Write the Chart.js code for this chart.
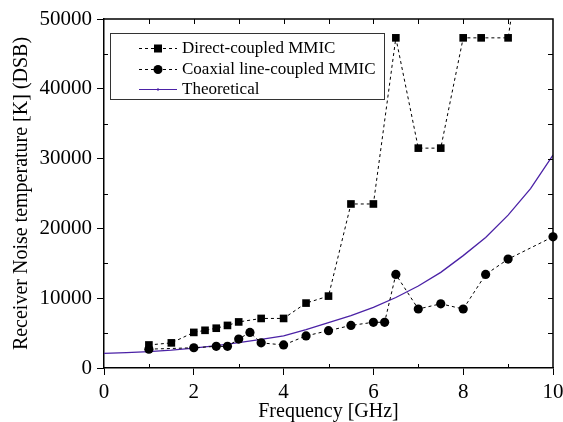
<!DOCTYPE html>
<html>
<head>
<meta charset="utf-8">
<script src="https://cdn.jsdelivr.net/npm/chart.js@4.4.1/dist/chart.umd.min.js"></script>
<style>
  html, body { margin: 0; padding: 0; background: #fff; }
  #wrap { width: 563px; height: 422px; position: relative; }
</style>
</head>
<body>
<div id="wrap"><canvas id="chart" width="563" height="422"></canvas></div>
<script>
(function () {
  "use strict";

  // Direct-coupled MMIC (squares)
  const directX = [1, 1.5, 2, 2.25, 2.5, 2.75, 3, 3.5, 4, 4.5, 5, 5.5, 6, 6.5, 7, 7.5, 8, 8.4, 9, 9.5];
  const directY = [3300, 3600, 5100, 5400, 5700, 6100, 6600, 7100, 7100, 9300, 10300, 23500, 23500, 47300, 31500, 31500, 47300, 47300, 47300, 68000];

  // Coaxial line-coupled MMIC (circles)
  const coaxX = [1, 2, 2.5, 2.75, 3, 3.25, 3.5, 4, 4.5, 5, 5.5, 6, 6.25, 6.5, 7, 7.5, 8, 8.5, 9, 10];
  const coaxY = [2700, 2900, 3100, 3100, 4150, 5100, 3600, 3300, 4600, 5350, 6100, 6550, 6550, 13400, 8450, 9200, 8450, 13400, 15600, 18800];

  // Theoretical curve
  const theoX = [0, 0.5, 1, 1.5, 2, 2.5, 3, 3.5, 4, 4.5, 5, 5.5, 6, 6.5, 7, 7.5, 8, 8.5, 9, 9.5, 10];
  const theoY = [2100, 2200, 2350, 2550, 2850, 3200, 3650, 4100, 4600, 5500, 6500, 7500, 8700, 10100, 11750, 13700, 16100, 18700, 21900, 25700, 30500];

  const legendLabels = ["Direct-coupled MMIC", "Coaxial line-coupled MMIC", "Theoretical"];

  const SERIF = "'Liberation Serif', 'Times New Roman', serif";
  const PURPLE = "#4b22a6";

  const zip = (xs, ys) => xs.map((x, i) => ({ x, y: ys[i] }));

  const framePlugin = {
    id: "frame",
    afterDatasetsDraw(chart) {
      const { ctx, chartArea: a, scales } = chart;
      const xs = scales.x, ys = scales.y;
      ctx.save();
      ctx.strokeStyle = "#000";
      ctx.lineWidth = 1.5;
      ctx.beginPath();
      ctx.moveTo(a.left, a.top);
      ctx.lineTo(a.right, a.top);
      ctx.lineTo(a.right, a.bottom);
      ctx.stroke();
      ctx.lineWidth = 1;
      ctx.beginPath();
      for (let v = 1; v < 10; v++) {
        const px = Math.round(xs.getPixelForValue(v)) + 0.5;
        ctx.moveTo(px, a.top);
        ctx.lineTo(px, a.top + 5);
        if (v % 2 === 1) {
          ctx.moveTo(px, a.bottom);
          ctx.lineTo(px, a.bottom - 4);
        }
      }
      for (let v = 5000; v < 50000; v += 5000) {
        const py = Math.round(ys.getPixelForValue(v)) + 0.5;
        ctx.moveTo(a.right, py);
        ctx.lineTo(a.right - 5, py);
        if (v % 10000 !== 0) {
          ctx.moveTo(a.left, py);
          ctx.lineTo(a.left + 4, py);
        }
      }
      ctx.stroke();
      ctx.restore();
    },
  };

  const legendPlugin = {
    id: "boxLegend",
    afterDraw(chart) {
      const ctx = chart.ctx;
      const box = { x: 110, y: 33, w: 274, h: 66 };
      ctx.save();
      ctx.strokeStyle = "#333";
      ctx.lineWidth = 1;
      ctx.strokeRect(box.x + 0.5, box.y + 0.5, box.w, box.h);
      const rows = [48, 69, 89];
      const x0 = 139, x1 = 177, xm = 158;
      rows.forEach((ry, i) => {
        ctx.beginPath();
        if (i < 2) {
          ctx.strokeStyle = "#000";
          ctx.setLineDash([3, 3]);
        } else {
          ctx.strokeStyle = PURPLE;
          ctx.setLineDash([]);
        }
        ctx.lineWidth = 1;
        ctx.moveTo(x0, ry + 0.5);
        ctx.lineTo(x1, ry + 0.5);
        ctx.stroke();
        ctx.setLineDash([]);
        if (i === 0) {
          ctx.fillStyle = "#000";
          ctx.fillRect(xm - 4, ry - 3.5, 8, 8);
        } else if (i === 1) {
          ctx.fillStyle = "#000";
          ctx.beginPath();
          ctx.arc(xm, ry + 0.5, 4.5, 0, Math.PI * 2);
          ctx.fill();
        } else {
          ctx.fillStyle = PURPLE;
          ctx.fillRect(xm - 1, ry - 0.5, 2, 2);
        }
        ctx.fillStyle = "#000";
        ctx.font = "17px " + SERIF;
        ctx.textBaseline = "middle";
        ctx.textAlign = "left";
        ctx.fillText(legendLabels[i], 182, ry + 1);
      });
      ctx.restore();
    },
  };

  const dashed = {
    borderColor: "#000",
    backgroundColor: "#000",
    borderWidth: 1,
    borderDash: [3, 3],
    tension: 0,
    clip: { left: 10, right: 10, top: 0, bottom: 10 },
  };

  const plain = (v) => String(v);

  new Chart(document.getElementById("chart").getContext("2d"), {
    type: "line",
    data: {
      datasets: [
        {
          ...dashed,
          label: legendLabels[0],
          data: zip(directX, directY),
          pointStyle: "rect",
          pointRadius: 5.4,
          pointBorderWidth: 0,
        },
        {
          ...dashed,
          label: legendLabels[1],
          data: zip(coaxX, coaxY),
          pointStyle: "circle",
          pointRadius: 4.6,
          pointBorderWidth: 0,
        },
        {
          label: legendLabels[2],
          data: zip(theoX, theoY),
          borderColor: PURPLE,
          backgroundColor: PURPLE,
          borderWidth: 1.3,
          pointRadius: 0,
          tension: 0,
          clip: 0,
        },
      ],
    },
    plugins: [framePlugin, legendPlugin],
    options: {
      responsive: false,
      animation: false,
      layout: { padding: { top: 19, right: 10, left: 0, bottom: 0 } },
      plugins: { legend: { display: false }, tooltip: { enabled: false } },
      scales: {
        x: {
          type: "linear",
          min: 0,
          max: 10,
          afterFit: (s) => {
            s.height = 54;
            s.paddingLeft = 0;
            s.paddingRight = 0;
          },
          ticks: {
            stepSize: 2,
            color: "#000",
            padding: 5,
            maxRotation: 0,
            callback: plain,
            font: { family: SERIF, size: 21 },
          },
          grid: { drawOnChartArea: false, drawTicks: true, tickLength: 7, color: "#000", lineWidth: 1 },
          border: { display: true, color: "#000", width: 1.5 },
          title: {
            display: true,
            text: "Frequency [GHz]",
            color: "#000",
            font: { family: SERIF, size: 20, lineHeight: 1 },
            padding: { top: 0, bottom: 0 },
          },
        },
        y: {
          type: "linear",
          min: 0,
          max: 50000,
          afterFit: (s) => {
            s.width = 104;
            s.paddingTop = 0;
            s.paddingBottom = 0;
          },
          ticks: {
            stepSize: 10000,
            color: "#000",
            padding: 5,
            callback: plain,
            font: { family: SERIF, size: 21 },
          },
          grid: { drawOnChartArea: false, drawTicks: true, tickLength: 7, color: "#000", lineWidth: 1 },
          border: { display: true, color: "#000", width: 1.5 },
          title: {
            display: true,
            text: "Receiver Noise temperature [K] (DSB)",
            color: "#000",
            font: { family: SERIF, size: 20, lineHeight: 1 },
            padding: { top: 12, bottom: 0 },
          },
        },
      },
    },
  });
})();
</script>
</body>
</html>
